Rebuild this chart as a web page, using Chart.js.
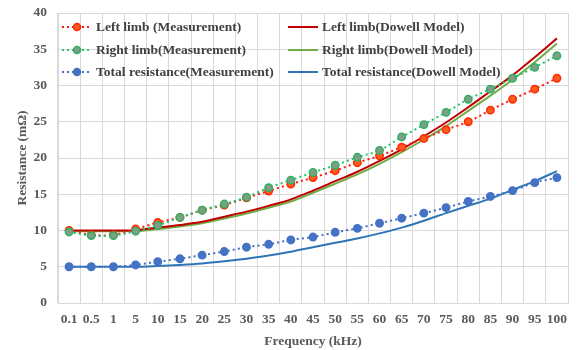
<!DOCTYPE html>
<html>
<head>
<meta charset="utf-8">
<script src="https://cdn.jsdelivr.net/npm/chart.js@4.4.0/dist/chart.umd.min.js"></script>
<style>
  body { margin: 0; background: #fff; }
  #wrap { position: relative; width: 581px; height: 350px; }
  #legend { position: absolute; left: 62px; top: 16px; font: bold 13.5px "Liberation Serif", "Times New Roman", serif; color: #404040; }
  .item { position: absolute; white-space: nowrap; height: 22px; line-height: 22px; }
  .item svg { position: absolute; left: 0; top: 6px; }
  .item span { position: absolute; left: 34px; top: 0; }
</style>
</head>
<body>
<div id="wrap">
  <canvas id="myChart" width="581" height="350"></canvas>
  <div id="legend"></div>
</div>
<script>
// frequencies (kHz)
var freq = ['0.1','0.5','1','5','10','15','20','25','30','35','40','45','50','55','60','65','70','75','80','85','90','95','100'];

// measurements (mOhm)
var leftMeas  = [10.0, 9.4, 9.4, 10.2, 11.1, 11.8, 12.8, 13.5, 14.5, 15.45, 16.4, 17.3, 18.25, 19.35, 20.3, 21.5, 22.7, 23.9, 25.0, 26.6, 28.1, 29.5, 31.0];
var rightMeas = [9.8, 9.3, 9.3, 9.9, 10.7, 11.8, 12.8, 13.65, 14.6, 15.9, 16.95, 18.0, 19.0, 20.1, 21.05, 22.9, 24.6, 26.3, 28.1, 29.5, 31.0, 32.5, 34.1];
var totalMeas = [5.0, 5.0, 5.0, 5.25, 5.7, 6.1, 6.6, 7.1, 7.7, 8.1, 8.7, 9.1, 9.75, 10.3, 11.0, 11.7, 12.4, 13.15, 14.0, 14.7, 15.5, 16.6, 17.3];

// Dowell model (mOhm)
var leftModel  = [10.0, 10.0, 10.0, 10.05, 10.4, 10.75, 11.2, 11.9, 12.6, 13.4, 14.3, 15.5, 16.8, 18.1, 19.6, 21.2, 23.0, 24.9, 27.0, 29.2, 31.4, 33.9, 36.5];
var rightModel = [9.9, 9.9, 9.9, 9.92, 10.2, 10.55, 11.0, 11.65, 12.35, 13.15, 14.0, 15.2, 16.45, 17.75, 19.2, 20.8, 22.55, 24.4, 26.5, 28.6, 30.8, 33.2, 35.8];
var totalModel = [5.0, 5.0, 5.0, 5.0, 5.1, 5.25, 5.45, 5.75, 6.1, 6.55, 7.07, 7.7, 8.3, 8.9, 9.6, 10.4, 11.35, 12.4, 13.4, 14.4, 15.6, 16.8, 18.2];

var serif = '"Liberation Serif", "Times New Roman", serif';

function meas(label, data, line, fill, border, order){
  return {
    label: label, data: data, order: order,
    borderColor: line, borderWidth: 2, borderDash: [2,3],
    pointRadius: 3.7, pointBackgroundColor: fill, pointBorderColor: border, pointBorderWidth: 1.5,
    tension: 0.3, fill: false
  };
}
function model(label, data, color, order){
  return {
    label: label, data: data, order: order,
    borderColor: color, borderWidth: 2, pointRadius: 0,
    tension: 0.4, cubicInterpolationMode: 'monotone', fill: false
  };
}

var datasets = [
  meas('Left limb (Measurement)', leftMeas, '#ff1a1a', '#ff5a1f', '#ff2a00', 1),
  model('Left limb(Dowell Model)', leftModel, '#c00000', 3),
  meas('Right limb(Measurement)', rightMeas, '#27c46b', '#7f9e88', '#30b060', 0),
  model('Right limb(Dowell Model)', rightModel, '#70ad47', 4),
  meas('Total resistance(Measurement)', totalMeas, '#4472c4', '#4472c4', '#4472c4', 2),
  model('Total resistance(Dowell Model)', totalModel, '#2e75b6', 5)
];

var tickFont = { family: serif, size: 13.5, weight: 'bold' };

var ctx = document.getElementById('myChart').getContext('2d');
var chart = new Chart(ctx, {
  type: 'line',
  data: { labels: freq, datasets: datasets },
  options: {
    responsive: false,
    animation: false,
    layout: { autoPadding: false, padding: { left: 10, right: 13, top: 13, bottom: 0 } },
    plugins: { legend: { display: false }, tooltip: { enabled: false } },
    scales: {
      x: {
        offset: true,
        afterFit: function(scale){ scale.height = 47; },
        grid: { offset: true, color: '#d9d9d9', drawTicks: false },
        border: { color: '#d9d9d9' },
        ticks: { font: tickFont, color: '#595959', padding: 8, maxRotation: 0, autoSkip: false },
        title: { display: true, text: 'Frequency (kHz)', font: tickFont, color: '#595959', padding: { top: 6, bottom: 0 } }
      },
      y: {
        min: 0, max: 40,
        afterFit: function(scale){ scale.width = 48; scale.paddingTop = 0; scale.paddingBottom = 0; },
        grid: { color: '#d9d9d9', drawTicks: false },
        border: { color: '#d9d9d9' },
        ticks: { stepSize: 5, font: tickFont, color: '#595959', padding: 11 },
        title: { display: true, text: 'Resistance (m\u03a9)', font: tickFont, color: '#595959', padding: { top: 4.5, bottom: 0 } }
      }
    }
  }
});

// legend in two columns inside the plot
var legend = document.getElementById('legend');
datasets.forEach(function(ds, i){
  var col = i % 2, row = Math.floor(i / 2);
  var div = document.createElement('div');
  div.className = 'item';
  div.style.left = (col * 226) + 'px';
  div.style.top = (row * 22.5) + 'px';
  var svg = '<svg width="30" height="10">';
  if (ds.borderDash) {
    svg += '<line x1="0" y1="5" x2="30" y2="5" stroke="' + ds.borderColor + '" stroke-width="2" stroke-dasharray="2,3"/>';
    svg += '<circle cx="15" cy="5" r="3.5" fill="' + ds.pointBackgroundColor + '" stroke="' + ds.pointBorderColor + '" stroke-width="1.5"/>';
  } else {
    svg += '<line x1="0" y1="5" x2="30" y2="5" stroke="' + ds.borderColor + '" stroke-width="2"/>';
  }
  svg += '</svg>';
  div.innerHTML = svg + '<span>' + ds.label + '</span>';
  legend.appendChild(div);
});
</script>
</body>
</html>
